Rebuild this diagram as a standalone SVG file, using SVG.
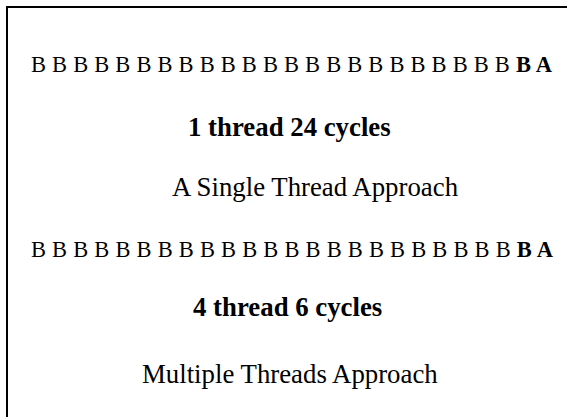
<svg xmlns="http://www.w3.org/2000/svg" width="567" height="417" viewBox="0 0 567 417">
<style>
text{font-family:"Liberation Serif","Times New Roman",serif;fill:#000}
.row{font-size:22.5px}
.b{font-weight:bold}
.lbl{font-size:26.8px}
</style>
<rect x="0" y="0" width="567" height="417" fill="#fff"/>
<g id="frame"><rect x="7" y="7" width="580" height="430" fill="none" stroke="#000" stroke-width="2"/></g>
<g id="row1"><text class="row" x="31" y="72" textLength="521" lengthAdjust="spacing">B B B B B B B B B B B B B B B B B B B B B B B <tspan class="b">B A</tspan></text></g>
<g id="label1"><text class="lbl b" x="188" y="136">1 thread 24 cycles</text></g>
<g id="caption1"><text class="lbl" x="172" y="196">A Single Thread Approach</text></g>
<g id="row2"><text class="row" x="31" y="257" textLength="522" lengthAdjust="spacing">B B B B B B B B B B B B B B B B B B B B B B B <tspan class="b">B A</tspan></text></g>
<g id="label2"><text class="lbl b" x="193" y="316">4 thread 6 cycles</text></g>
<g id="caption2"><text class="lbl" x="142" y="383">Multiple Threads Approach</text></g>
</svg>
